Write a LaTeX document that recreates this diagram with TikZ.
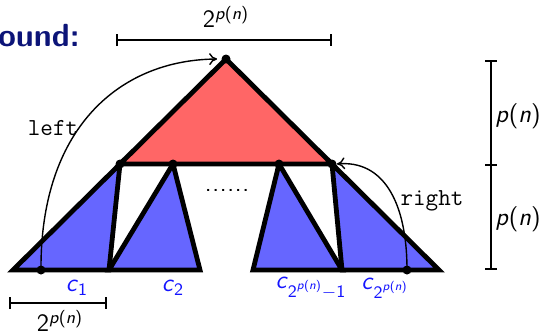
\documentclass[tikz,border=0pt]{standalone}
\usetikzlibrary{arrows.meta}
\definecolor{redfill}{RGB}{255,102,102}
\definecolor{bluefill}{RGB}{102,102,255}
\definecolor{titlenavy}{RGB}{12,20,120}
\definecolor{clabel}{RGB}{20,20,255}
\newcommand{\pofn}{\textit{p}(\textit{n})}
\newcommand{\twopn}{2\textsuperscript{\pofn}}
\newcommand{\spdot}{.\kern0.35pt}
\tikzset{
  tri/.style={line width=2.4pt, line join=miter},
  bluetri/.style={tri, fill=bluefill},
  redtri/.style={tri, fill=redfill},
  vdot/.style={circle, fill=black, inner sep=0pt, minimum size=4.5pt},
  dimline/.style={line width=1pt, {Bar[width=6pt]}-{Bar[width=6pt]}},
  tickline/.style={line width=1pt},
  arcarrow/.style={line width=0.7pt, -{To[length=4pt,width=6pt]}},
  ttlabel/.style={font=\ttfamily\fontsize{12.2}{14}\selectfont},
  clab/.style={text=clabel},
}
\begin{document}
\begin{tikzpicture}[x=0.5pt,y=-0.5pt,font=\sffamily\fontsize{12.5}{14}\selectfont]
\useasboundingbox (0,0) rectangle (540,334);
% points
\coordinate (apex) at (226,59);
\coordinate (L1) at (120,164);
\coordinate (L2) at (173,164);
\coordinate (R2) at (279,164);
\coordinate (R1) at (332,164);
\coordinate (b0) at (13,270);
\coordinate (b1) at (109,270);
\coordinate (b2) at (200,270);
\coordinate (b3) at (253,270);
\coordinate (b4) at (342,270);
\coordinate (b5) at (439,270);
% blue triangles
\draw[bluetri] (L1) -- (b0) -- (b1) -- cycle;
\draw[bluetri] (L2) -- (b1) -- (b2) -- cycle;
\draw[bluetri] (R2) -- (b3) -- (b4) -- cycle;
\draw[bluetri] (R1) -- (b4) -- (b5) -- cycle;
% red triangle
\draw[redtri] (apex) -- (L1) -- (R1) -- cycle;
% dots
\node[vdot] (dA) at (apex) {};
\node[vdot] (dL1) at (L1) {};
\node[vdot] (dL2) at (L2) {};
\node[vdot] (dR2) at (R2) {};
\node[vdot] (dR1) at (R1) {};
\node[vdot] (dleft) at (41,270) {};
\node[vdot] (dright) at (407,270) {};
\node (dots) at (227,190) {\spdot\spdot\spdot\spdot\spdot.};
% arcs
\draw[arcarrow] (dleft.center) .. controls (40,130) and (118,60) .. ([xshift=-2pt]dA.west);
\draw[arcarrow] (dright.center) .. controls (407,200) and (382,160) .. (dR1.east);
\node[ttlabel] (leftlbl) at (53,128) {left};
\node[ttlabel] (rightlbl) at (432,201) {right};
% labels c
\node[clab] (c1) at (77,288) {\textit{c}\textsubscript{1}};
\node[clab] (c2) at (173,288) {\textit{c}\textsubscript{2}};
\node[clab] (c3) at (311,288) {\textit{c}\textsubscript{2\textsuperscript{\pofn}$-$1}};
\node[clab] (c4) at (385,288) {\textit{c}\textsubscript{2\textsuperscript{\pofn}}};
% dimensions
\coordinate (tl) at (116,40);
\coordinate (tr) at (332,40);
\draw[dimline] (tl) -- (tr);
\node (toplbl) at (226,17) {\twopn};
\coordinate (bl) at (9,303);
\coordinate (br) at (107,303);
\draw[dimline] (bl) -- (br);
\node (botlbl) at (60,321) {\twopn};
\coordinate (v0) at (491,60);
\coordinate (v1) at (491,165);
\coordinate (v2) at (491,270);
\draw[dimline] (v0) -- (v2);
\draw[tickline] ([xshift=-3pt]v1) -- ([xshift=3pt]v1);
\node[anchor=west, inner sep=1pt] (p1) at (493,116) {\pofn};
\node[anchor=west, inner sep=1pt] (p2) at (493,219) {\pofn};
% title
\node[anchor=base east, text=titlenavy, font=\sffamily\bfseries\fontsize{16}{18}\selectfont, inner sep=0pt] (title) at (80,46) {bound:};
\end{tikzpicture}
\end{document}
